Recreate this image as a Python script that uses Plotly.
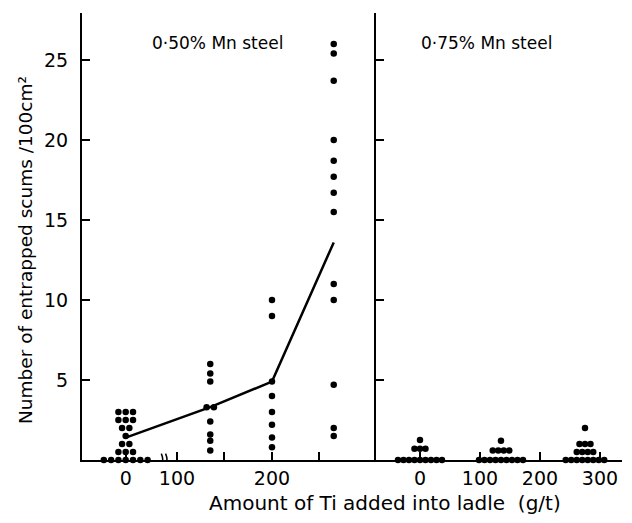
import plotly.graph_objects as go

# ---- data -------------------------------------------------------------
# 0.50 % Mn steel: Ti added (g/t) and entrapped scums per 100 cm^2
left_ti = [0, 135, 200, 265]
left_g0 = [3, 3, 3, 2.5, 2.5, 2.5, 2, 2, 1.5, 1, 1, 0.5, 0.5, 0.5, 0, 0, 0, 0, 0, 0, 0]
left_g135 = [6.0, 5.4, 4.9, 3.3, 3.3, 2.4, 1.6, 1.2, 0.6]
left_g200 = [10.0, 9.0, 4.9, 4.0, 3.0, 2.2, 1.4, 0.8]
left_g265 = [26.0, 25.4, 23.7, 20.0, 18.7, 17.7, 16.7, 15.5, 11.0, 10.0, 4.7, 2.0, 1.5]
left_mean = [1.4, 3.3, 4.9, 13.6]

# 0.75 % Mn steel
right_ti = [0, 135, 275]
right_g0 = [1.25, 0.7, 0.7, 0.7, 0, 0, 0, 0, 0, 0, 0, 0, 0]
right_g135 = [1.2, 0.6, 0.6, 0.6, 0.6, 0, 0, 0, 0, 0, 0, 0, 0, 0]
right_g275 = [2.0, 1.0, 1.0, 1.0, 0.5, 0.5, 0.5, 0.5, 0, 0, 0, 0, 0, 0, 0, 0]

left_ticks = [0, 100, 200]
right_ticks = [0, 100, 200, 300]
y_ticks = [5, 10, 15, 20, 25]

# ---- layout geometry --------------------------------------------------
W, H = 632, 523
M_L, M_R, M_T, M_B = 82, 10, 13, 63
PW = W - M_L - M_R
PH = H - M_T - M_B
LEFT_W = 294                       # pixel width of the left panel
SPLIT = LEFT_W / PW

LX_RANGE = [0, 309.5]
RX_RANGE = [-73.3, 336.7]
Y_RANGE = [0, PH / 16.0]
ZERO_POS = 46                      # where the 0 g/t group sits on the broken axis

lx_px = LEFT_W / (LX_RANGE[1] - LX_RANGE[0])
rx_px = (PW - LEFT_W) / (RX_RANGE[1] - RX_RANGE[0])


def broken(x):
    """Position on the broken Ti axis of the left panel."""
    return ZERO_POS if x == 0 else x


def swarm(center, values, spacing_units):
    """Spread equal values side by side around a column centre."""
    xs, ys = [], []
    for v in dict.fromkeys(values):
        n = values.count(v)
        for i in range(n):
            xs.append(center + (i - (n - 1) / 2) * spacing_units)
            ys.append(v)
    return xs, ys


def px_x(px):
    return (px - M_L) / PW


def px_y(py):
    return (H - M_B - py) / PH


FONT = "DejaVu Sans"
mk = dict(color="black", size=6.5)

fig = go.Figure()

left_groups = [left_g0, left_g135, left_g200, left_g265]
for ti, vals in zip(left_ti, left_groups):
    xs, ys = swarm(broken(ti), vals, 7.3 / lx_px)
    fig.add_trace(go.Scatter(x=xs, y=ys, mode="markers", marker=mk,
                             xaxis="x", yaxis="y", cliponaxis=False,
                             showlegend=False, hoverinfo="skip"))

fig.add_trace(go.Scatter(x=[broken(t) for t in left_ti], y=left_mean,
                         mode="lines", line=dict(color="black", width=2.5),
                         xaxis="x", yaxis="y", showlegend=False))

right_groups = [right_g0, right_g135, right_g275]
for ti, vals in zip(right_ti, right_groups):
    xs, ys = swarm(ti, vals, 5.5 / rx_px)
    fig.add_trace(go.Scatter(x=xs, y=ys, mode="markers", marker=mk,
                             xaxis="x2", yaxis="y2", cliponaxis=False,
                             showlegend=False, hoverinfo="skip"))

axis_common = dict(showgrid=False, zeroline=False, showline=True,
                   linecolor="black", linewidth=2, ticks="inside",
                   tickcolor="black", tickwidth=1.5, ticklen=8,
                   tickfont=dict(family=FONT, size=19, color="black"))

fig.update_layout(
    width=W, height=H,
    margin=dict(l=M_L, r=M_R, t=M_T, b=M_B),
    paper_bgcolor="white", plot_bgcolor="white",
    xaxis=dict(domain=[0, SPLIT], range=LX_RANGE, anchor="y",
               tickvals=[broken(t) for t in left_ticks] + [150, 250],
               ticktext=[str(t) for t in left_ticks] + ["", ""],
               **axis_common),
    yaxis=dict(domain=[0, 1], range=Y_RANGE, anchor="x",
               tickvals=y_ticks, ticklabelstandoff=8, **axis_common),
    xaxis2=dict(domain=[SPLIT, 1], range=RX_RANGE, anchor="y2",
                tickvals=right_ticks, **axis_common),
    yaxis2=dict(domain=[0, 1], range=Y_RANGE, anchor="x2",
                tickvals=y_ticks, showticklabels=False, **axis_common),
)

# axis-break marks on the left Ti axis
brk = 85
for dx in (0, 4.5):
    x0 = brk + dx
    fig.add_shape(type="path", xref="x", yref="y",
                  path=f"M {x0-1.5},-0.4 Q {x0+1.5},0 {x0-1.5},0.4",
                  line=dict(color="black", width=1.5))

# panel titles and axis titles
text_style = dict(xref="paper", yref="paper", showarrow=False,
                  xanchor="center", yanchor="middle")
fig.add_annotation(text="0·50% Mn steel", x=px_x(217), y=px_y(43),
                   font=dict(family=FONT, size=17, color="black"), **text_style)
fig.add_annotation(text="0·75% Mn steel", x=px_x(486), y=px_y(43),
                   font=dict(family=FONT, size=17, color="black"), **text_style)
fig.add_annotation(text="Amount of Ti added into ladle  (g/t)", x=px_x(385), y=px_y(503),
                   font=dict(family=FONT, size=20, color="black"), **text_style)
fig.add_annotation(text="Number of entrapped scums /100cm²", x=px_x(25), y=px_y(250),
                   textangle=-90,
                   font=dict(family=FONT, size=18.5, color="black"), **text_style)

fig.write_html("out.html")
